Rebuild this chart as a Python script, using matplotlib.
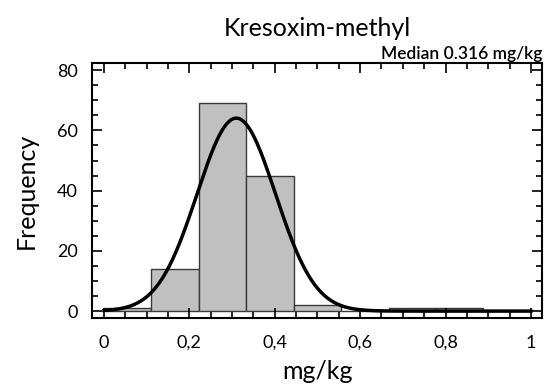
import numpy as np
import matplotlib.pyplot as plt
from matplotlib.ticker import MultipleLocator, FuncFormatter

# histogram data
bin_edges = [0, 1/9, 2/9, 3/9, 4/9, 5/9, 6/9, 7/9, 8/9, 1.0]
counts = [1, 14, 69, 45, 2, 0, 1, 1, 0]

# fitted normal curve parameters
mu = 0.31
sigma = 0.092
n_total = sum(counts)
bin_w = 1/9

plt.rcParams['font.family'] = ['Lato', 'DejaVu Sans']

fig = plt.figure(figsize=(5.48, 3.89), dpi=100)
ax = fig.add_axes([92/548, 1 - 318/389, 450/548, 255/389])

lefts = bin_edges[:-1]
ax.bar(lefts, counts, width=np.diff(bin_edges), align='edge',
       color='#c0c0c0', edgecolor='#3a3a3a', linewidth=1)

x = np.linspace(0, 1, 400)
y = n_total * bin_w / (sigma * np.sqrt(2 * np.pi)) * np.exp(-0.5 * ((x - mu) / sigma) ** 2)
ax.plot(x, y, color='black', lw=2.5)

ax.set_xlim(-0.028, 1.026)
ax.set_ylim(-2.3, 82.4)
ax.xaxis.set_major_locator(MultipleLocator(0.2))
ax.xaxis.set_minor_locator(MultipleLocator(0.05))
ax.yaxis.set_major_locator(MultipleLocator(20))
ax.yaxis.set_minor_locator(MultipleLocator(5))
ax.xaxis.set_major_formatter(FuncFormatter(lambda v, p: ('%g' % round(v, 2)).replace('.', ',')))
ax.tick_params(which='both', direction='in', top=True, right=True, labelsize=13, width=1.2)
ax.tick_params(which='major', length=7)
ax.tick_params(which='minor', length=4)
ax.tick_params(axis='x', pad=12)
ax.tick_params(axis='y', pad=10)
for s in ax.spines.values():
    s.set_linewidth(1.5)

ax.set_xlabel('mg/kg', fontsize=18, labelpad=7)
ax.set_ylabel('Frequency', fontsize=18, labelpad=14)
fig.text(317/548, 1 - 29/389, 'Kresoxim-methyl', fontsize=18, ha='center', va='center')
ax.text(1.0, 1.005, 'Median 0.316 mg/kg', transform=ax.transAxes, ha='right', va='bottom',
        fontsize=12.5, fontweight='semibold')

fig.savefig('out.png', dpi=100)
